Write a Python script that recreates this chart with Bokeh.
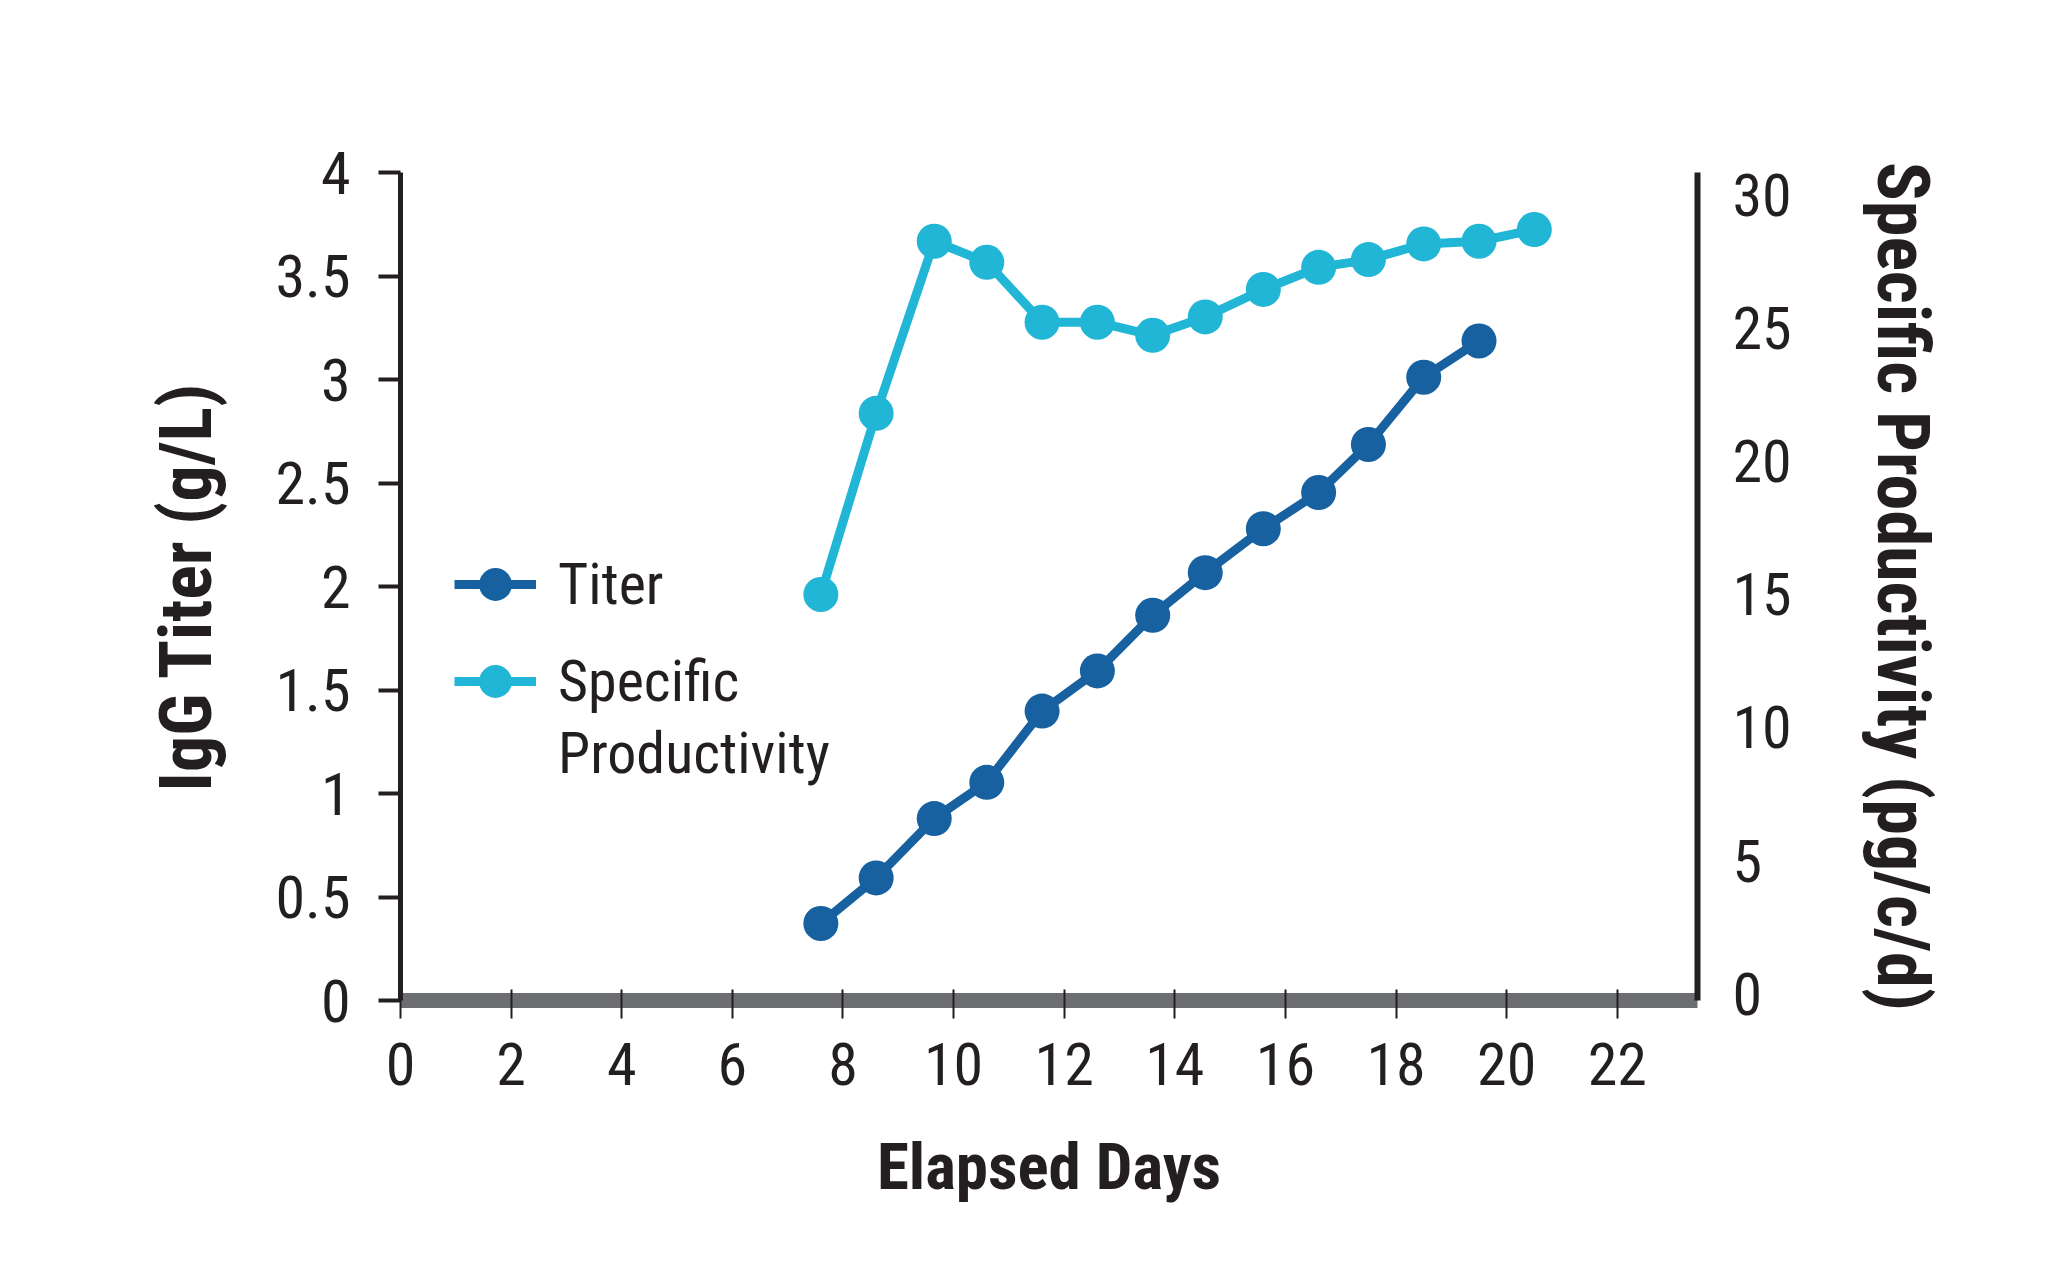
from bokeh.plotting import figure
from bokeh.models import Range1d, LinearAxis, FixedTicker, Legend, LegendItem, NumeralTickFormatter
from bokeh.embed import file_html
from bokeh.resources import INLINE

# ---- data ----
days = [7.6, 8.6, 9.65, 10.6, 11.6, 12.6, 13.6, 14.55, 15.6, 16.6, 17.5, 18.5, 19.5, 20.5]
titer_days = days[:13]
titer = [0.372, 0.592, 0.879, 1.054, 1.398, 1.592, 1.861, 2.067, 2.279, 2.454, 2.686, 3.011, 3.186]
sp_days = days
specific_productivity = [14.99, 21.79, 28.25, 27.46, 25.21, 25.21, 24.72, 25.41, 26.44, 27.27, 27.56, 28.15, 28.25, 28.69]

x_ticks = list(range(0, 23, 2))
left_ticks = [0, 0.5, 1, 1.5, 2, 2.5, 3, 3.5, 4]
right_ticks = [0, 5, 10, 15, 20, 25, 30]

DARK = "#1761a0"
LIGHT = "#21b6d6"
TEXT = "#231f20"
BAR = "#6d6e71"
FONT = "Roboto Condensed"
TICK_SIZE = "60px"

p = figure(frame_width=1297, frame_height=828,
           x_range=Range1d(0, 23.45), y_range=Range1d(0, 4),
           output_backend="svg", toolbar_location=None,
           x_axis_location=None, y_axis_location=None,
           min_border_left=400, min_border_right=332,
           min_border_top=172, min_border_bottom=264)
p.outline_line_color = None
p.xgrid.visible = False
p.ygrid.visible = False

p.extra_y_ranges = {"sp": Range1d(-0.25, 30.83)}

# left axis
yl = LinearAxis(ticker=FixedTicker(ticks=left_ticks),
                formatter=NumeralTickFormatter(format="0.[0]"),
                axis_line_width=5, axis_line_color=TEXT,
                major_tick_in=0, major_tick_out=22, major_tick_line_width=4,
                major_tick_line_color=TEXT, minor_tick_line_color=None,
                major_label_standoff=28,
                major_label_text_font=FONT, major_label_text_font_size=TICK_SIZE,
                major_label_text_color=TEXT,
                axis_label="IgG Titer (g/L)", axis_label_standoff=43,
                axis_label_text_font=FONT, axis_label_text_font_style="bold",
                axis_label_text_font_size="72px", axis_label_text_color=TEXT)
p.add_layout(yl, "left")

# right axis
yr = LinearAxis(y_range_name="sp", ticker=FixedTicker(ticks=right_ticks),
                axis_line_width=6, axis_line_color=TEXT,
                major_tick_in=0, major_tick_out=0, minor_tick_line_color=None,
                major_label_standoff=35,
                major_label_text_font=FONT, major_label_text_font_size=TICK_SIZE,
                major_label_text_color=TEXT,
                axis_label="Specific Productivity (pg/c/d)", axis_label_standoff=65,
                axis_label_text_font=FONT, axis_label_text_font_style="bold",
                axis_label_text_font_size="72px", axis_label_text_color=TEXT)
p.add_layout(yr, "right")

# bottom axis (thick gray bar)
xa = LinearAxis(ticker=FixedTicker(ticks=x_ticks),
                axis_line_width=15, axis_line_color=BAR,
                major_tick_in=11, major_tick_out=18, major_tick_line_width=2,
                major_tick_line_color=TEXT, minor_tick_line_color=None,
                major_label_standoff=24,
                major_label_text_font=FONT, major_label_text_font_size=TICK_SIZE,
                major_label_text_color=TEXT,
                axis_label="Elapsed Days", axis_label_standoff=41,
                axis_label_text_font=FONT, axis_label_text_font_style="bold",
                axis_label_text_font_size="65px", axis_label_text_color=TEXT)
p.add_layout(xa, "below")

# series
t_line = p.line(titer_days, titer, line_color=DARK, line_width=9, line_join="round")
t_dots = p.scatter(titer_days, titer, size=35, fill_color=DARK, line_color=None)
s_line = p.line(sp_days, specific_productivity, y_range_name="sp",
                line_color=LIGHT, line_width=9, line_join="round")
s_dots = p.scatter(sp_days, specific_productivity, y_range_name="sp",
                   size=35, fill_color=LIGHT, line_color=None)

legend = Legend(items=[LegendItem(label="Titer", renderers=[t_line, t_dots]),
                       LegendItem(label="Specific", renderers=[s_line, s_dots])],
                location=(54, 278), orientation="vertical",
                glyph_width=82, glyph_height=82, label_standoff=22,
                label_text_font=FONT, label_text_font_size="58px",
                label_text_color=TEXT,
                padding=0, margin=0, spacing=15,
                border_line_color=None, background_fill_alpha=0)
p.add_layout(legend)
legend2 = Legend(items=[LegendItem(label="Productivity", renderers=[])],
                 location=(54, 206), orientation="vertical",
                 glyph_width=82, glyph_height=82, label_standoff=22,
                 label_text_font=FONT, label_text_font_size="58px",
                 label_text_color=TEXT,
                 padding=0, margin=0, spacing=0,
                 border_line_color=None, background_fill_alpha=0)
p.add_layout(legend2)

open("out.html", "w").write(file_html(p, INLINE))
